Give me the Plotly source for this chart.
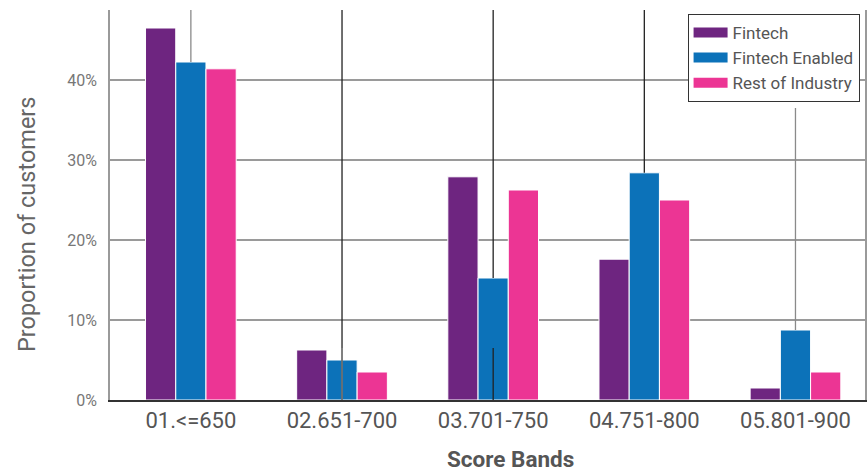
import plotly.graph_objects as go

# Score bands and share of customers (%) per segment
bands = ["01.<=650", "02.651-700", "03.701-750", "04.751-800", "05.801-900"]
fintech = [46.5, 6.25, 27.9, 17.6, 1.5]
fintech_enabled = [42.25, 5.0, 15.25, 28.4, 8.75]
rest_of_industry = [41.4, 3.5, 26.25, 25.0, 3.5]

series_names = ["Fintech", "Fintech Enabled", "Rest of Industry"]
series_colors = ["#6E2580", "#0C72B9", "#EC3594"]

# Reference guide segments at band centres: (band index, y start, y end, colour)
guide_band = [0, 1, 1, 2, 2, 3, 4]
guide_y0 = [42.25, 0.0, 0.0, 15.25, 0.0, 28.4, 8.75]
guide_y1 = [48.75, 48.75, 6.5, 48.75, 6.5, 48.75, 36.5]
guide_color = ["#8a8a8a", "#222222", "#8a8a8a", "#222222", "#222222", "#222222", "#8a8a8a"]

y_ticks = [0, 10, 20, 30, 40]
y_tick_text = ["0%", "10%", "20%", "30%", "40%"]
y_top = 48.75

fig = go.Figure()
for name, vals, col in zip(series_names, [fintech, fintech_enabled, rest_of_industry], series_colors):
    fig.add_trace(go.Bar(
        name=name, x=list(range(len(bands))), y=vals,
        marker=dict(color=col, line=dict(color="white", width=1)),
        showlegend=False,
    ))

for b, y0, y1, c in zip(guide_band, guide_y0, guide_y1, guide_color):
    fig.add_trace(go.Scatter(
        x=[b, b], y=[y0, y1], mode="lines",
        line=dict(color=c, width=1.3), showlegend=False, hoverinfo="skip",
    ))

# Legend entries drawn as wide colour swatches
for name, col in zip(series_names, series_colors):
    fig.add_trace(go.Scatter(
        name=name, x=[None], y=[None], mode="lines",
        line=dict(color=col, width=11), showlegend=True,
    ))

fig.update_layout(
    width=867, height=471,
    margin=dict(l=110, r=0, t=10, b=71),
    paper_bgcolor="white", plot_bgcolor="white",
    font=dict(family="Roboto, sans-serif", color="#555555"),
    barmode="group", bargap=0.4, bargroupgap=0,
    legend=dict(
        x=0.765, y=0.99, xanchor="left", yanchor="top",
        bordercolor="#333333", borderwidth=1, bgcolor="white",
        font=dict(size=17, color="#555555"),
        tracegroupgap=0, itemwidth=34,
    ),
    xaxis=dict(
        range=[-0.535, 4.46],
        tickmode="array", tickvals=list(range(len(bands))), ticktext=bands,
        tickfont=dict(size=22, color="#555555"),
        showgrid=False, zeroline=False,
        showline=True, linecolor="#333333", linewidth=1.5,
        ticks="", fixedrange=True,
    ),
    yaxis=dict(
        range=[0, y_top],
        tickmode="array", tickvals=y_ticks, ticktext=y_tick_text,
        tickfont=dict(size=16, color="#777777"),
        showgrid=True, gridcolor="#9a9a9a", gridwidth=1.5,
        zeroline=False,
        showline=True, linecolor="#9a9a9a", linewidth=1.5, mirror=True,
        ticks="", ticklabelstandoff=8,
    ),
    annotations=[
        dict(
            text="<b>Score Bands</b>", xref="paper", yref="paper",
            x=0.531, y=-0.151, xanchor="center", yanchor="middle",
            showarrow=False, font=dict(size=22.5, color="#555555"),
        ),
        dict(
            text="Proportion of customers", xref="paper", yref="paper",
            x=-0.11, y=0.451, xanchor="center", yanchor="middle", textangle=-90,
            showarrow=False, font=dict(size=23.5, color="#666666"),
        ),
    ],
)

fig.write_html("out.html")
